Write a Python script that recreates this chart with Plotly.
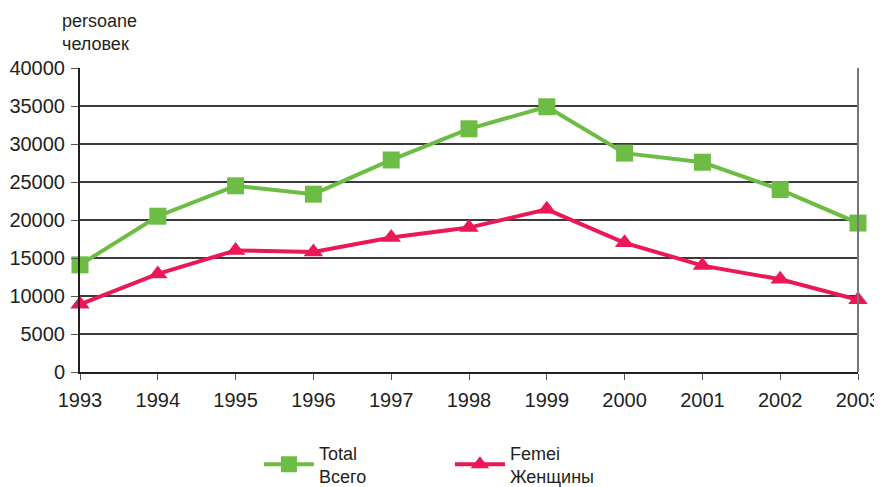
import plotly.graph_objects as go

# years on the x axis
years = [1993, 1994, 1995, 1996, 1997, 1998, 1999, 2000, 2001, 2002, 2003]

# total persons / всего
total = [14100, 20500, 24500, 23400, 27900, 32000, 34900, 28800, 27600, 24000, 19600]
# women / женщины
femei = [8900, 12900, 16000, 15800, 17700, 19000, 21400, 17000, 14000, 12200, 9500]

y_ticks = [0, 5000, 10000, 15000, 20000, 25000, 30000, 35000, 40000]
y_labels = [str(v) for v in y_ticks]

GREEN = "#6dbd45"
RED = "#ea1856"

fig = go.Figure()
fig.add_trace(go.Scatter(
    x=years, y=total, name="Total<br>Всего", mode="lines+markers",
    line=dict(color=GREEN, width=4),
    marker=dict(symbol="square", size=17, color=GREEN),
    cliponaxis=False,
))
fig.add_trace(go.Scatter(
    x=years, y=femei, name="Femei<br>Женщины", mode="lines+markers",
    line=dict(color=RED, width=4),
    marker=dict(symbol="triangle-up", size=17, color=RED),
    cliponaxis=False,
))

# page body has an 8px margin, so the figure is a bit smaller and shifted
fig.update_layout(
    width=874, height=479,
    margin=dict(l=72, r=24, t=60, b=115, autoexpand=False),
    plot_bgcolor="white", paper_bgcolor="white",
    font=dict(family="Liberation Sans, Arial, sans-serif", size=20, color="#231f20"),
    legend=dict(
        orientation="h", x=0.23, y=-0.205, xanchor="left", yanchor="top",
        font=dict(size=18), entrywidth=126, itemwidth=50,
        traceorder="normal",
    ),
    annotations=[dict(
        text="persoane<br>человек", xref="paper", yref="paper",
        x=-0.026, y=1.0, xanchor="left", yanchor="bottom", yshift=12,
        showarrow=False, align="left", font=dict(size=18),
    )],
)
fig.update_xaxes(
    range=[1993, 2003], tickvals=years, showgrid=False, automargin=False,
    ticks="outside", ticklen=6, tickcolor="#555", ticklabelstandoff=3,
    showline=True, linecolor="#231f20", linewidth=2,
    zeroline=False,
)
fig.update_yaxes(
    range=[0, 40000], tickvals=y_ticks, ticktext=y_labels, automargin=False,
    showgrid=True, gridcolor="#3a3a3a", gridwidth=1.5,
    ticks="outside", ticklen=7, tickcolor="#555", ticklabelstandoff=2,
    showline=True, linecolor="#231f20", linewidth=2, zeroline=False,
)
# right frame line
fig.add_shape(type="line", xref="paper", yref="paper", x0=1, x1=1, y0=0, y1=1,
              line=dict(color="#777", width=2))

fig.write_html("out.html")
